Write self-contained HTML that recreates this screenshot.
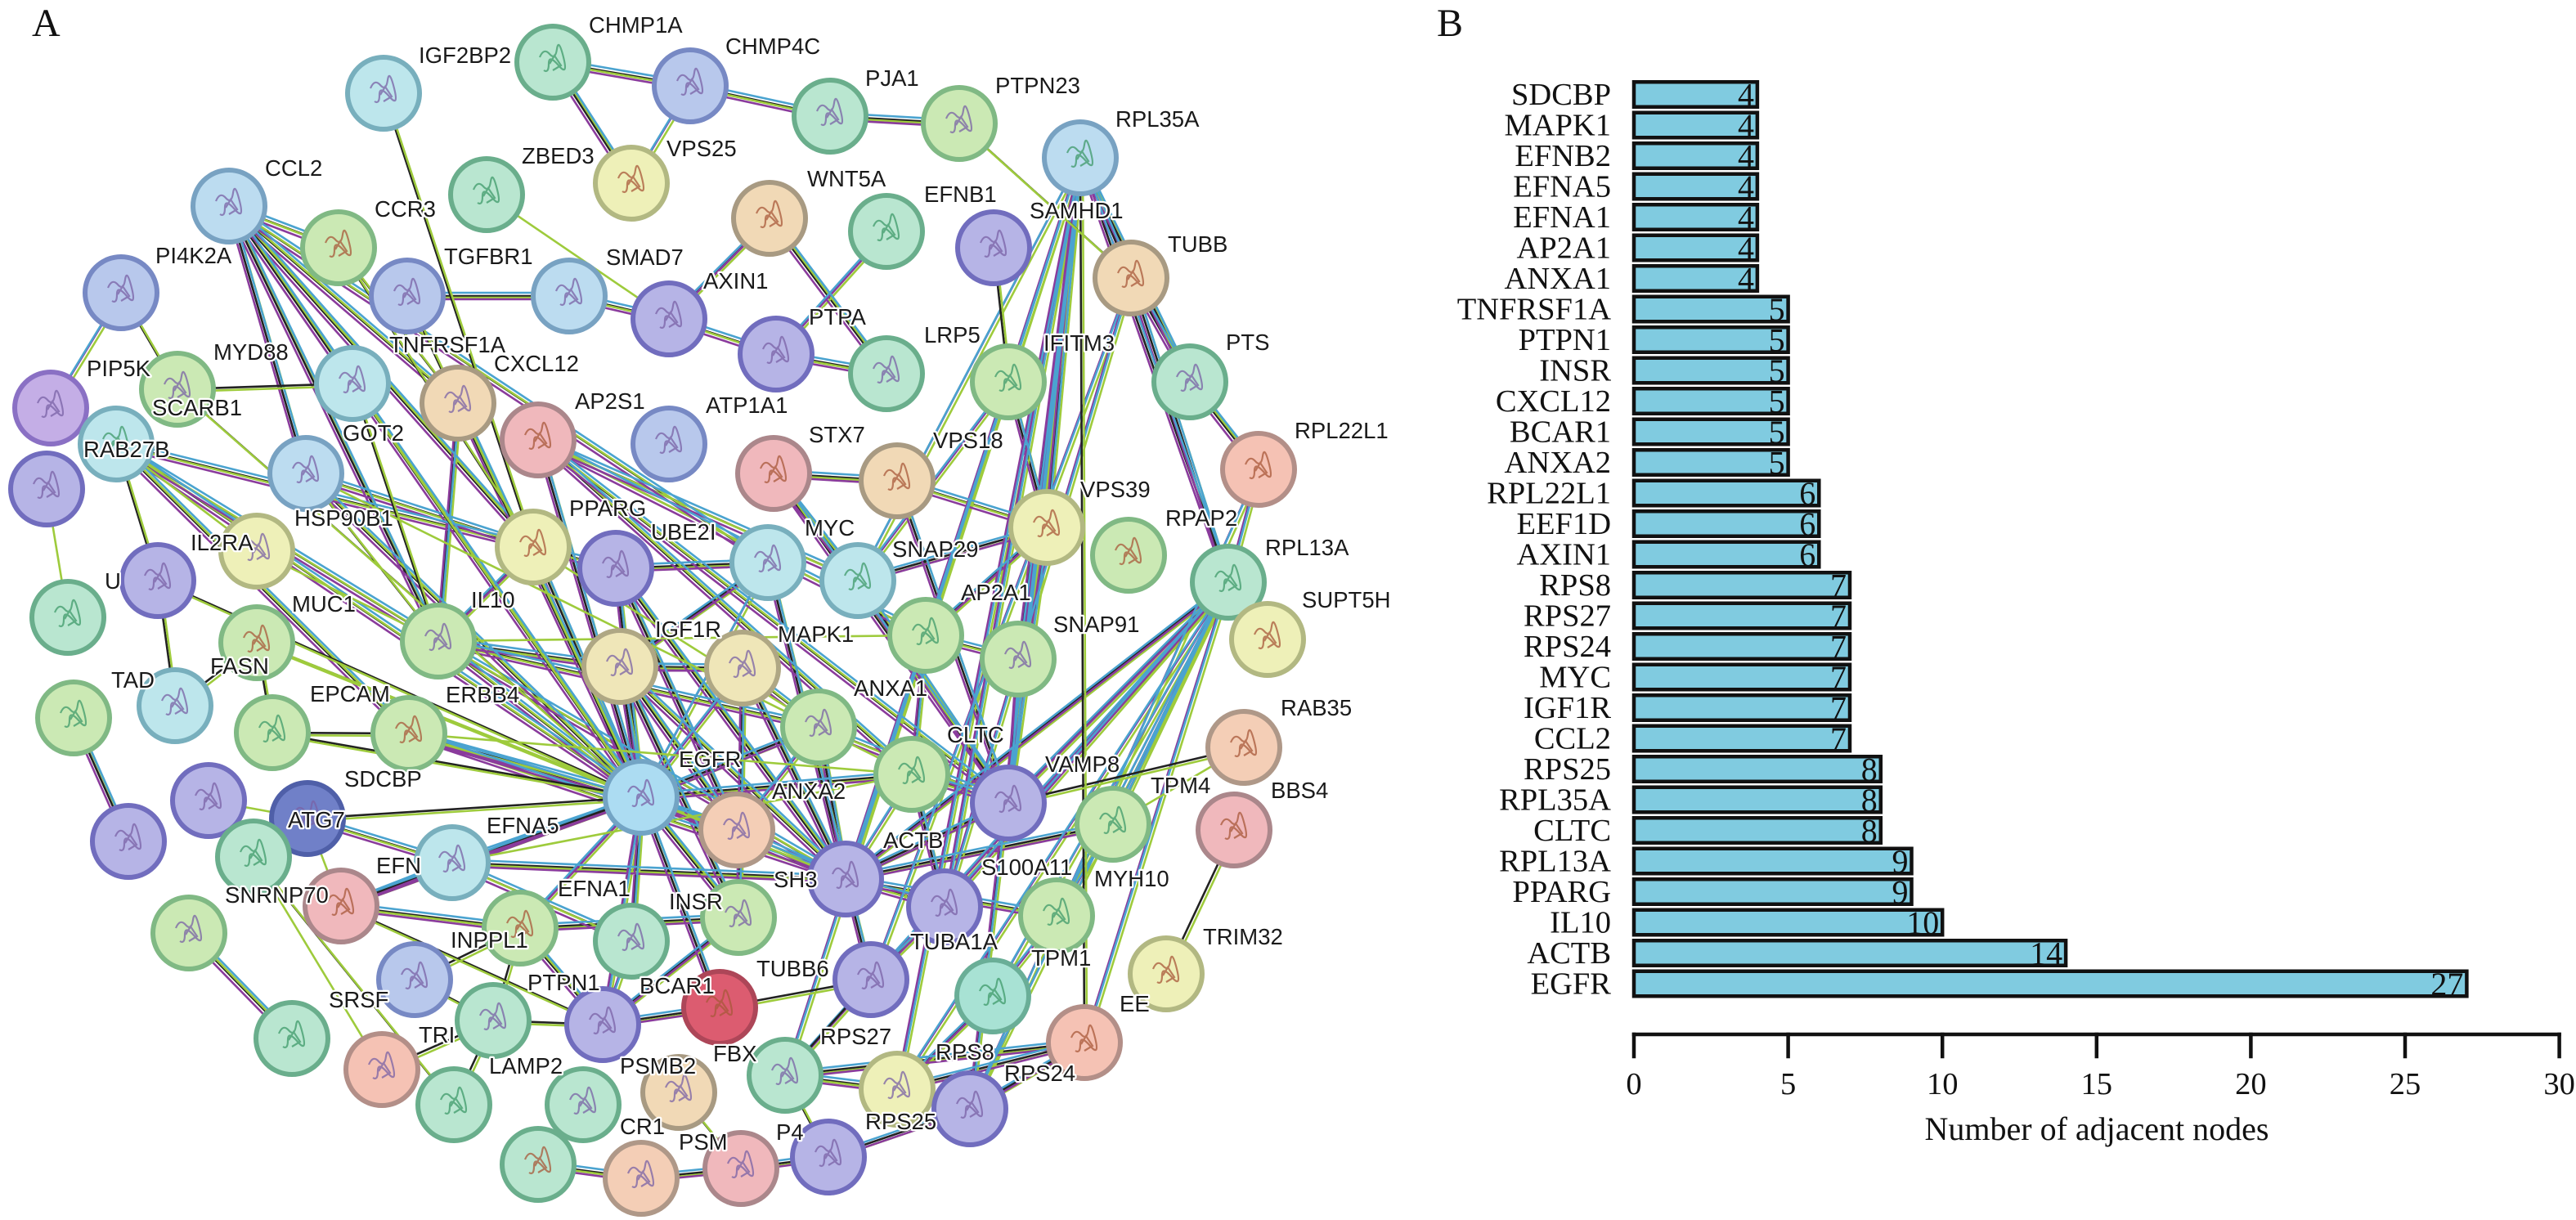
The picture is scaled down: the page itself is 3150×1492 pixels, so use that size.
<!DOCTYPE html>
<html><head><meta charset="utf-8">
<style>
html,body{margin:0;padding:0;background:#fff;}
svg{display:block;}
.n circle{stroke-width:6;}
.cy{fill:#bde6ec;stroke:#78afbd}
.mi{fill:#b9e6d0;stroke:#6aae8c}
.gr{fill:#cbe9b4;stroke:#80b984}
.lb{fill:#bcdcf0;stroke:#78a2c2}
.pw{fill:#b8c8ec;stroke:#7789c4}
.pu{fill:#b6b4e6;stroke:#716dbe}
.vi{fill:#c4aee6;stroke:#8a70c4}
.ye{fill:#eef0b8;stroke:#b2b882}
.wh{fill:#efe6b8;stroke:#afa784}
.tn{fill:#f1d9b6;stroke:#a89a82}
.pe{fill:#f4ceb6;stroke:#af9888}
.pk{fill:#f0b8bc;stroke:#ab878b}
.sa{fill:#f5c2b4;stroke:#b38f88}
.sk{fill:#acdcf2;stroke:#73a4c4}
.rd{fill:#dc5c70;stroke:#ad4658}
.dk{fill:#7080c8;stroke:#4f5fa8}
.c2{fill:#a8e2d4;stroke:#6aae97}
.lab text{font-family:"Liberation Sans",Arial,sans-serif;font-size:27.5px;fill:#1a1a1a;stroke:#fff;stroke-width:4.5px;paint-order:stroke;stroke-linejoin:round;}
.bc text{font-family:"Liberation Serif","Times New Roman",serif;fill:#111;}
</style></head>
<body>
<svg width="3150" height="1492" viewBox="0 0 3150 1492" xmlns="http://www.w3.org/2000/svg">
<rect width="3150" height="1492" fill="#fff"/>
<defs>
<path id="e4" d="M676 76L844 105M844 105L1015 142M1015 142L1173 151M676 76L772 224M844 105L772 224M498 362L696 362M696 362L818 390M818 390L949 433M949 433L1084 457M941 267L1084 457M949 433L1084 283M941 267L818 390M280 252L414 303M280 252L560 493M280 252L536 784M280 252L652 669M280 252L784 975M280 252L431 469M142 543L536 784M142 543L652 669M142 543L784 975M62 499L148 358M658 538L1132 777M658 538L1115 947M658 538L784 975M652 669L753 695M652 669L536 784M652 669L784 975M946 579L1097 588M946 579L1233 982M946 579L1049 710M1097 588L1280 645M1097 588L1233 982M1049 710L1233 982M1280 645L1233 982M1132 777L1115 947M1132 777L1245 806M1115 947L1034 1075M784 975L758 815M784 975L908 817M784 975L1001 889M784 975L901 1015M784 975L903 1122M784 975L772 1151M784 975L553 1055M784 975L737 1253M784 975L880 1232M784 975L500 897M784 975L1034 1075M784 975L1115 947M784 975L636 1135M784 975L536 784M758 815L903 1122M1034 1075L1155 1109M1034 1075L1065 1198M1034 1075L1233 982M1034 1075L1361 1008M1034 1075L1292 1120M1155 1109L1065 1198M1155 1109L1383 340M1065 1198L1383 340M1321 193L1502 712M1321 193L1097 1332M1321 193L1186 1356M1321 193L960 1315M1321 193L1383 340M1321 193L1455 467M1502 712L1097 1332M1502 712L1186 1356M1502 712L960 1315M1502 712L1539 574M1502 712L1326 1275M1539 574L1186 1356M1383 340L1455 467M1455 467L1539 574M1383 340L1502 712M1097 1332L1186 1356M960 1315L1097 1332M1186 1356L1326 1275M960 1315L1326 1275M1013 1415L1186 1356M906 1429L1013 1415M784 1441L906 1429M658 1424L784 1441M903 1122L737 1253M737 1253L880 1232M553 1055L772 1151M231 1141L357 1270M90 878L157 1029M417 1108L553 1055M417 1108L636 1135M1321 193L1280 645M1321 193L1132 777M1321 193L1049 710M1233 467L1280 645M1233 467L1132 777M939 688L753 695M939 688L784 975M939 688L758 815M939 688L1034 1075M374 579L784 975M374 579L652 669M560 493L784 975M560 493L536 784M1001 889L901 1015M901 1015L1034 1075M908 817L758 815M1233 982L1245 806M1502 712L1550 782M1214 1218L1097 1332M1326 1275L1097 1332M1321 193L1245 806M1502 712L1292 1120M1502 712L1361 1008M1502 712L1214 1218M1502 712L1155 1109M1502 712L1034 1075M1502 712L1233 982M1361 1008L1292 1120M1292 1120L1214 1218M142 543L500 897M500 897L1034 1075M500 897L901 1015M536 784L1034 1075M536 784L1001 889M536 784L758 815M636 1135L903 1122M636 1135L737 1253M772 1151L737 1253M758 815L901 1015M758 815L1034 1075M908 817L1001 889M908 817L1034 1075M908 817L903 1122M658 538L1233 982M658 538L1049 710M753 695L784 975M753 695L1034 1075M753 695L901 1015M1115 947L1233 982M1115 947L1155 1109M1001 889L1034 1075M1001 889L1233 982M1132 777L1034 1075M1280 645L1132 777M1280 645L1049 710M1233 467L1049 710M1321 193L1233 982M1321 193L1034 1075M1321 193L1155 1109M280 252L939 688M280 252L374 579M417 1108L784 975M376 1001L553 1055M553 1055L1034 1075"/>
<path id="e2" d="M1321 193L1326 1275M1215 303L1233 467M1521 914L1233 982M1509 1015L1426 1191M217 476L431 469M148 358L217 476M217 476L784 975M431 469L536 784M62 499L142 543M142 543L193 710M314 786L214 863M193 710L214 863M333 896L500 897M314 786L333 896M314 786L784 975M376 1001L784 975M310 1048L555 1351M603 1248L636 1135M603 1248L737 1253M603 1248L507 1198M507 1198L636 1135M467 1308L603 1248M555 1351L603 1248M417 1108L737 1253M830 1336L906 1429M960 1315L1013 1415M414 303L652 669M414 303L560 493M469 114L652 669M1173 151L1383 340M193 710L784 975M498 362L784 975M333 896L784 975M374 579L536 784M431 469L784 975M1065 1198L880 1232M960 1315L1065 1198"/>
<path id="eg" d="M595 238L818 390M57 598L83 755M142 543L314 674M376 1001L255 979M310 1048L467 1308M314 674L536 784M376 1001L417 1108M1361 1008L1521 914M314 786L1034 1075M536 784L1132 777M652 669L1001 889M374 579L1115 947M500 897L1115 947M553 1055L1115 947"/>
<path id="sc" d="M-16 -6q5 -12 12 -4t9 -6t8 10t-6 10t-12 -2t-6 8M-4 2l6 -10l8 12l-10 6" fill="none" stroke-width="2.2"/>
</defs>

<!-- Panel A edges -->
<g fill="none" stroke-width="2.6">
<use href="#e4" stroke="#222222"/>
<use href="#e4" stroke="#9ecb3c" transform="translate(4,2)"/>
<use href="#e4" stroke="#8a3b9c" transform="translate(-2,4)"/>
<use href="#e4" stroke="#4aa3d0" transform="translate(2,-4)"/>
<use href="#e2" stroke="#222222"/>
<use href="#e2" stroke="#9ecb3c" transform="translate(3,3)"/>
<use href="#eg" stroke="#9ecb3c"/>
</g>

<!-- Panel A nodes -->
<g class="n">
<circle cx="469" cy="114" r="44" class="cy"/>
<circle cx="676" cy="76" r="44" class="mi"/>
<circle cx="844" cy="105" r="44" class="pw"/>
<circle cx="595" cy="238" r="44" class="mi"/>
<circle cx="772" cy="224" r="44" class="ye"/>
<circle cx="1015" cy="142" r="44" class="mi"/>
<circle cx="1173" cy="151" r="44" class="gr"/>
<circle cx="1321" cy="193" r="44" class="lb"/>
<circle cx="280" cy="252" r="44" class="lb"/>
<circle cx="414" cy="303" r="44" class="gr"/>
<circle cx="148" cy="358" r="44" class="pw"/>
<circle cx="498" cy="362" r="44" class="pw"/>
<circle cx="696" cy="362" r="44" class="lb"/>
<circle cx="941" cy="267" r="44" class="tn"/>
<circle cx="1084" cy="283" r="44" class="mi"/>
<circle cx="1215" cy="303" r="44" class="pu"/>
<circle cx="1383" cy="340" r="44" class="tn"/>
<circle cx="818" cy="390" r="44" class="pu"/>
<circle cx="949" cy="433" r="44" class="pu"/>
<circle cx="1084" cy="457" r="44" class="mi"/>
<circle cx="1233" cy="467" r="44" class="gr"/>
<circle cx="1455" cy="467" r="44" class="mi"/>
<circle cx="62" cy="499" r="44" class="vi"/>
<circle cx="217" cy="476" r="44" class="gr"/>
<circle cx="431" cy="469" r="44" class="cy"/>
<circle cx="560" cy="493" r="44" class="tn"/>
<circle cx="658" cy="538" r="44" class="pk"/>
<circle cx="818" cy="543" r="44" class="pw"/>
<circle cx="946" cy="579" r="44" class="pk"/>
<circle cx="1097" cy="588" r="44" class="tn"/>
<circle cx="1539" cy="574" r="44" class="sa"/>
<circle cx="142" cy="543" r="44" class="cy"/>
<circle cx="57" cy="598" r="44" class="pu"/>
<circle cx="374" cy="579" r="44" class="lb"/>
<circle cx="652" cy="669" r="44" class="ye"/>
<circle cx="753" cy="695" r="44" class="pu"/>
<circle cx="939" cy="688" r="44" class="cy"/>
<circle cx="1049" cy="710" r="44" class="cy"/>
<circle cx="1280" cy="645" r="44" class="ye"/>
<circle cx="1380" cy="679" r="44" class="gr"/>
<circle cx="1502" cy="712" r="44" class="mi"/>
<circle cx="314" cy="674" r="44" class="ye"/>
<circle cx="193" cy="710" r="44" class="pu"/>
<circle cx="83" cy="755" r="44" class="mi"/>
<circle cx="536" cy="784" r="44" class="gr"/>
<circle cx="1132" cy="777" r="44" class="gr"/>
<circle cx="1550" cy="782" r="44" class="ye"/>
<circle cx="1245" cy="806" r="44" class="gr"/>
<circle cx="758" cy="815" r="44" class="wh"/>
<circle cx="908" cy="817" r="44" class="wh"/>
<circle cx="314" cy="786" r="44" class="gr"/>
<circle cx="214" cy="863" r="44" class="cy"/>
<circle cx="90" cy="878" r="44" class="gr"/>
<circle cx="333" cy="896" r="44" class="gr"/>
<circle cx="500" cy="897" r="44" class="gr"/>
<circle cx="1001" cy="889" r="44" class="gr"/>
<circle cx="1521" cy="914" r="44" class="pe"/>
<circle cx="1115" cy="947" r="44" class="gr"/>
<circle cx="784" cy="975" r="44" class="sk"/>
<circle cx="1233" cy="982" r="44" class="pu"/>
<circle cx="255" cy="979" r="44" class="pu"/>
<circle cx="376" cy="1001" r="44" class="dk"/>
<circle cx="1361" cy="1008" r="44" class="gr"/>
<circle cx="1509" cy="1015" r="44" class="pk"/>
<circle cx="901" cy="1015" r="44" class="pe"/>
<circle cx="157" cy="1029" r="44" class="pu"/>
<circle cx="310" cy="1048" r="44" class="mi"/>
<circle cx="553" cy="1055" r="44" class="cy"/>
<circle cx="1034" cy="1075" r="44" class="pu"/>
<circle cx="417" cy="1108" r="44" class="pk"/>
<circle cx="1155" cy="1109" r="44" class="pu"/>
<circle cx="231" cy="1141" r="44" class="gr"/>
<circle cx="636" cy="1135" r="44" class="gr"/>
<circle cx="772" cy="1151" r="44" class="mi"/>
<circle cx="903" cy="1122" r="44" class="gr"/>
<circle cx="1292" cy="1120" r="44" class="gr"/>
<circle cx="1426" cy="1191" r="44" class="ye"/>
<circle cx="507" cy="1198" r="44" class="pw"/>
<circle cx="1065" cy="1198" r="44" class="pu"/>
<circle cx="880" cy="1232" r="44" class="rd"/>
<circle cx="737" cy="1253" r="44" class="pu"/>
<circle cx="603" cy="1248" r="44" class="mi"/>
<circle cx="1214" cy="1218" r="44" class="c2"/>
<circle cx="1326" cy="1275" r="44" class="sa"/>
<circle cx="357" cy="1270" r="44" class="mi"/>
<circle cx="960" cy="1315" r="44" class="mi"/>
<circle cx="830" cy="1336" r="44" class="tn"/>
<circle cx="1097" cy="1332" r="44" class="ye"/>
<circle cx="1186" cy="1356" r="44" class="pu"/>
<circle cx="467" cy="1308" r="44" class="sa"/>
<circle cx="555" cy="1351" r="44" class="mi"/>
<circle cx="713" cy="1351" r="44" class="mi"/>
<circle cx="658" cy="1424" r="44" class="mi"/>
<circle cx="784" cy="1441" r="44" class="pe"/>
<circle cx="906" cy="1429" r="44" class="pk"/>
<circle cx="1013" cy="1415" r="44" class="pu"/>
</g>

<!-- protein structure scribbles -->
<g stroke="#7a62a6" opacity="0.75">
<use href="#sc" x="469" y="114"/><use href="#sc" x="844" y="105"/><use href="#sc" x="1015" y="142"/><use href="#sc" x="1173" y="151"/>
<use href="#sc" x="280" y="252"/><use href="#sc" x="148" y="358"/><use href="#sc" x="498" y="362"/><use href="#sc" x="696" y="362"/>
<use href="#sc" x="1215" y="303"/><use href="#sc" x="818" y="390"/><use href="#sc" x="949" y="433"/><use href="#sc" x="1084" y="457"/>
<use href="#sc" x="1455" y="467"/><use href="#sc" x="62" y="499"/><use href="#sc" x="217" y="476"/><use href="#sc" x="431" y="469"/>
<use href="#sc" x="560" y="493"/><use href="#sc" x="818" y="543"/><use href="#sc" x="57" y="598"/><use href="#sc" x="374" y="579"/>
<use href="#sc" x="753" y="695"/><use href="#sc" x="939" y="688"/><use href="#sc" x="314" y="674"/><use href="#sc" x="193" y="710"/>
<use href="#sc" x="536" y="784"/><use href="#sc" x="758" y="815"/><use href="#sc" x="908" y="817"/><use href="#sc" x="214" y="863"/>
<use href="#sc" x="1001" y="889"/><use href="#sc" x="784" y="975"/><use href="#sc" x="1233" y="982"/><use href="#sc" x="255" y="979"/>
<use href="#sc" x="376" y="1001"/><use href="#sc" x="901" y="1015"/><use href="#sc" x="157" y="1029"/><use href="#sc" x="553" y="1055"/>
<use href="#sc" x="1034" y="1075"/><use href="#sc" x="1155" y="1109"/><use href="#sc" x="231" y="1141"/><use href="#sc" x="772" y="1151"/>
<use href="#sc" x="903" y="1122"/><use href="#sc" x="507" y="1198"/><use href="#sc" x="1065" y="1198"/><use href="#sc" x="737" y="1253"/>
<use href="#sc" x="603" y="1248"/><use href="#sc" x="960" y="1315"/><use href="#sc" x="830" y="1336"/><use href="#sc" x="1186" y="1356"/>
<use href="#sc" x="467" y="1308"/><use href="#sc" x="713" y="1351"/><use href="#sc" x="784" y="1441"/><use href="#sc" x="906" y="1429"/>
<use href="#sc" x="1013" y="1415"/><use href="#sc" x="1097" y="1332"/><use href="#sc" x="1245" y="806"/>
</g>
<g stroke="#a8583a" opacity="0.75">
<use href="#sc" x="772" y="224"/><use href="#sc" x="414" y="303"/><use href="#sc" x="941" y="267"/><use href="#sc" x="1383" y="340"/>
<use href="#sc" x="658" y="538"/><use href="#sc" x="946" y="579"/><use href="#sc" x="1097" y="588"/><use href="#sc" x="1539" y="574"/>
<use href="#sc" x="652" y="669"/><use href="#sc" x="1380" y="679"/><use href="#sc" x="314" y="786"/><use href="#sc" x="500" y="897"/>
<use href="#sc" x="1521" y="914"/><use href="#sc" x="1509" y="1015"/><use href="#sc" x="417" y="1108"/><use href="#sc" x="636" y="1135"/>
<use href="#sc" x="1426" y="1191"/><use href="#sc" x="880" y="1232"/><use href="#sc" x="1326" y="1275"/><use href="#sc" x="658" y="1424"/>
<use href="#sc" x="1550" y="782"/><use href="#sc" x="1280" y="645"/>
</g>
<g stroke="#3f9a6a" opacity="0.75">
<use href="#sc" x="676" y="76"/><use href="#sc" x="595" y="238"/><use href="#sc" x="1321" y="193"/><use href="#sc" x="1084" y="283"/>
<use href="#sc" x="1233" y="467"/><use href="#sc" x="142" y="543"/><use href="#sc" x="1049" y="710"/><use href="#sc" x="1502" y="712"/>
<use href="#sc" x="83" y="755"/><use href="#sc" x="1132" y="777"/><use href="#sc" x="90" y="878"/><use href="#sc" x="333" y="896"/>
<use href="#sc" x="1115" y="947"/><use href="#sc" x="1361" y="1008"/><use href="#sc" x="310" y="1048"/><use href="#sc" x="1292" y="1120"/>
<use href="#sc" x="1214" y="1218"/><use href="#sc" x="357" y="1270"/><use href="#sc" x="555" y="1351"/>
</g>

<!-- Panel A labels -->
<g class="lab">
<text x="512" y="77">IGF2BP2</text>
<text x="720" y="40">CHMP1A</text>
<text x="887" y="66">CHMP4C</text>
<text x="638" y="200">ZBED3</text>
<text x="815" y="191">VPS25</text>
<text x="1058" y="105">PJA1</text>
<text x="1217" y="114">PTPN23</text>
<text x="1364" y="155">RPL35A</text>
<text x="324" y="215">CCL2</text>
<text x="458" y="265">CCR3</text>
<text x="190" y="322">PI4K2A</text>
<text x="543" y="323">TGFBR1</text>
<text x="741" y="324">SMAD7</text>
<text x="987" y="228">WNT5A</text>
<text x="1130" y="247">EFNB1</text>
<text x="1259" y="267">SAMHD1</text>
<text x="1428" y="308">TUBB</text>
<text x="860" y="353">AXIN1</text>
<text x="989" y="397">PTPA</text>
<text x="1130" y="419">LRP5</text>
<text x="1276" y="429">IFITM3</text>
<text x="1499" y="428">PTS</text>
<text x="261" y="440">MYD88</text>
<text x="476" y="431">TNFRSF1A</text>
<text x="604" y="454">CXCL12</text>
<text x="106" y="460">PIP5K</text>
<text x="186" y="508">SCARB1</text>
<text x="703" y="500">AP2S1</text>
<text x="863" y="505">ATP1A1</text>
<text x="419" y="539">GOT2</text>
<text x="989" y="541">STX7</text>
<text x="1141" y="548">VPS18</text>
<text x="1583" y="536">RPL22L1</text>
<text x="102" y="559">RAB27B</text>
<text x="1321" y="608">VPS39</text>
<text x="696" y="631">PPARG</text>
<text x="360" y="643">HSP90B1</text>
<text x="1425" y="643">RPAP2</text>
<text x="984" y="655">MYC</text>
<text x="796" y="660">UBE2I</text>
<text x="233" y="673">IL2RA</text>
<text x="1547" y="679">RPL13A</text>
<text x="1091" y="681">SNAP29</text>
<text x="128" y="720">U</text>
<text x="1175" y="734">AP2A1</text>
<text x="576" y="743">IL10</text>
<text x="1592" y="743">SUPT5H</text>
<text x="357" y="748">MUC1</text>
<text x="1288" y="773">SNAP91</text>
<text x="801" y="779">IGF1R</text>
<text x="951" y="785">MAPK1</text>
<text x="257" y="824">FASN</text>
<text x="136" y="841">TAD</text>
<text x="1044" y="851">ANXA1</text>
<text x="379" y="858">EPCAM</text>
<text x="545" y="859">ERBB4</text>
<text x="1566" y="875">RAB35</text>
<text x="1158" y="908">CLTC</text>
<text x="830" y="938">EGFR</text>
<text x="1278" y="944">VAMP8</text>
<text x="421" y="962">SDCBP</text>
<text x="1407" y="970">TPM4</text>
<text x="1554" y="976">BBS4</text>
<text x="944" y="977">ANXA2</text>
<text x="352" y="1012">ATG7</text>
<text x="595" y="1019">EFNA5</text>
<text x="1080" y="1037">ACTB</text>
<text x="460" y="1068">EFN</text>
<text x="1200" y="1070">S100A11</text>
<text x="1338" y="1084">MYH10</text>
<text x="946" y="1085">SH3</text>
<text x="682" y="1096">EFNA1</text>
<text x="275" y="1104">SNRNP70</text>
<text x="818" y="1112">INSR</text>
<text x="1471" y="1155">TRIM32</text>
<text x="551" y="1159">INPPL1</text>
<text x="1113" y="1161">TUBA1A</text>
<text x="1261" y="1181">TPM1</text>
<text x="925" y="1194">TUBB6</text>
<text x="645" y="1211">PTPN1</text>
<text x="782" y="1215">BCAR1</text>
<text x="402" y="1232">SRSF</text>
<text x="1369" y="1237">EE</text>
<text x="512" y="1275">TRI</text>
<text x="1003" y="1277">RPS27</text>
<text x="1144" y="1296">RPS8</text>
<text x="872" y="1298">FBX</text>
<text x="598" y="1313">LAMP2</text>
<text x="758" y="1313">PSMB2</text>
<text x="1228" y="1322">RPS24</text>
<text x="1058" y="1381">RPS25</text>
<text x="758" y="1387">CR1</text>
<text x="949" y="1394">P4</text>
<text x="830" y="1406">PSM</text>
</g>

<!-- Panel letters -->
<g class="bc">
<text x="39" y="44" font-size="48">A</text>
<text x="1757" y="44" font-size="48">B</text>
</g>

<!-- Panel B bars -->
<g fill="#80cbe0" stroke="#111" stroke-width="4.5">
<rect x="1998" y="100.25" width="150.9" height="30.5"/>
<rect x="1998" y="137.75" width="150.9" height="30.5"/>
<rect x="1998" y="175.25" width="150.9" height="30.5"/>
<rect x="1998" y="212.75" width="150.9" height="30.5"/>
<rect x="1998" y="250.25" width="150.9" height="30.5"/>
<rect x="1998" y="287.75" width="150.9" height="30.5"/>
<rect x="1998" y="325.25" width="150.9" height="30.5"/>
<rect x="1998" y="362.75" width="188.6" height="30.5"/>
<rect x="1998" y="400.25" width="188.6" height="30.5"/>
<rect x="1998" y="437.75" width="188.6" height="30.5"/>
<rect x="1998" y="475.25" width="188.6" height="30.5"/>
<rect x="1998" y="512.75" width="188.6" height="30.5"/>
<rect x="1998" y="550.25" width="188.6" height="30.5"/>
<rect x="1998" y="587.75" width="226.3" height="30.5"/>
<rect x="1998" y="625.25" width="226.3" height="30.5"/>
<rect x="1998" y="662.75" width="226.3" height="30.5"/>
<rect x="1998" y="700.25" width="264" height="30.5"/>
<rect x="1998" y="737.75" width="264" height="30.5"/>
<rect x="1998" y="775.25" width="264" height="30.5"/>
<rect x="1998" y="812.75" width="264" height="30.5"/>
<rect x="1998" y="850.25" width="264" height="30.5"/>
<rect x="1998" y="887.75" width="264" height="30.5"/>
<rect x="1998" y="925.25" width="301.8" height="30.5"/>
<rect x="1998" y="962.75" width="301.8" height="30.5"/>
<rect x="1998" y="1000.25" width="301.8" height="30.5"/>
<rect x="1998" y="1037.75" width="339.5" height="30.5"/>
<rect x="1998" y="1075.25" width="339.5" height="30.5"/>
<rect x="1998" y="1112.75" width="377.2" height="30.5"/>
<rect x="1998" y="1150.25" width="528.1" height="30.5"/>
<rect x="1998" y="1187.75" width="1018.4" height="30.5"/>
</g>

<!-- Bar category labels -->
<g class="bc" font-size="38.5" text-anchor="end">
<text x="1970" y="128">SDCBP</text>
<text x="1970" y="165.5">MAPK1</text>
<text x="1970" y="203">EFNB2</text>
<text x="1970" y="240.5">EFNA5</text>
<text x="1970" y="278">EFNA1</text>
<text x="1970" y="315.5">AP2A1</text>
<text x="1970" y="353">ANXA1</text>
<text x="1970" y="390.5">TNFRSF1A</text>
<text x="1970" y="428">PTPN1</text>
<text x="1970" y="465.5">INSR</text>
<text x="1970" y="503">CXCL12</text>
<text x="1970" y="540.5">BCAR1</text>
<text x="1970" y="578">ANXA2</text>
<text x="1970" y="615.5">RPL22L1</text>
<text x="1970" y="653">EEF1D</text>
<text x="1970" y="690.5">AXIN1</text>
<text x="1970" y="728">RPS8</text>
<text x="1970" y="765.5">RPS27</text>
<text x="1970" y="803">RPS24</text>
<text x="1970" y="840.5">MYC</text>
<text x="1970" y="878">IGF1R</text>
<text x="1970" y="915.5">CCL2</text>
<text x="1970" y="953">RPS25</text>
<text x="1970" y="990.5">RPL35A</text>
<text x="1970" y="1028">CLTC</text>
<text x="1970" y="1065.5">RPL13A</text>
<text x="1970" y="1103">PPARG</text>
<text x="1970" y="1140.5">IL10</text>
<text x="1970" y="1178">ACTB</text>
<text x="1970" y="1215.5">EGFR</text>
</g>

<!-- Bar values -->
<g class="bc" font-size="40" text-anchor="end">
<text x="2145" y="129.5">4</text>
<text x="2145" y="167">4</text>
<text x="2145" y="204.5">4</text>
<text x="2145" y="242">4</text>
<text x="2145" y="279.5">4</text>
<text x="2145" y="317">4</text>
<text x="2145" y="354.5">4</text>
<text x="2182.6" y="392">5</text>
<text x="2182.6" y="429.5">5</text>
<text x="2182.6" y="467">5</text>
<text x="2182.6" y="504.5">5</text>
<text x="2182.6" y="542">5</text>
<text x="2182.6" y="579.5">5</text>
<text x="2220.3" y="617">6</text>
<text x="2220.3" y="654.5">6</text>
<text x="2220.3" y="692">6</text>
<text x="2258" y="729.5">7</text>
<text x="2258" y="767">7</text>
<text x="2258" y="804.5">7</text>
<text x="2258" y="842">7</text>
<text x="2258" y="879.5">7</text>
<text x="2258" y="917">7</text>
<text x="2295.8" y="954.5">8</text>
<text x="2295.8" y="992">8</text>
<text x="2295.8" y="1029.5">8</text>
<text x="2333.5" y="1067">9</text>
<text x="2333.5" y="1104.5">9</text>
<text x="2371.2" y="1142">10</text>
<text x="2522.1" y="1179.5">14</text>
<text x="3012.4" y="1217">27</text>
</g>

<!-- Axis -->
<g stroke="#111" stroke-width="4.5" fill="none" stroke-linecap="square">
<line x1="1998" y1="1265" x2="3129.6" y2="1265"/>
<line x1="1998" y1="1265" x2="1998" y2="1292"/>
<line x1="2186.6" y1="1265" x2="2186.6" y2="1292"/>
<line x1="2375.2" y1="1265" x2="2375.2" y2="1292"/>
<line x1="2563.8" y1="1265" x2="2563.8" y2="1292"/>
<line x1="2752.4" y1="1265" x2="2752.4" y2="1292"/>
<line x1="2941" y1="1265" x2="2941" y2="1292"/>
<line x1="3129.6" y1="1265" x2="3129.6" y2="1292"/>
</g>
<g class="bc" font-size="38.5" text-anchor="middle">
<text x="1998" y="1338">0</text>
<text x="2186.6" y="1338">5</text>
<text x="2375.2" y="1338">10</text>
<text x="2563.8" y="1338">15</text>
<text x="2752.4" y="1338">20</text>
<text x="2941" y="1338">25</text>
<text x="3129.6" y="1338">30</text>
<text x="2564" y="1394" font-size="40">Number of adjacent nodes</text>
</g>
</svg>
</body></html>
